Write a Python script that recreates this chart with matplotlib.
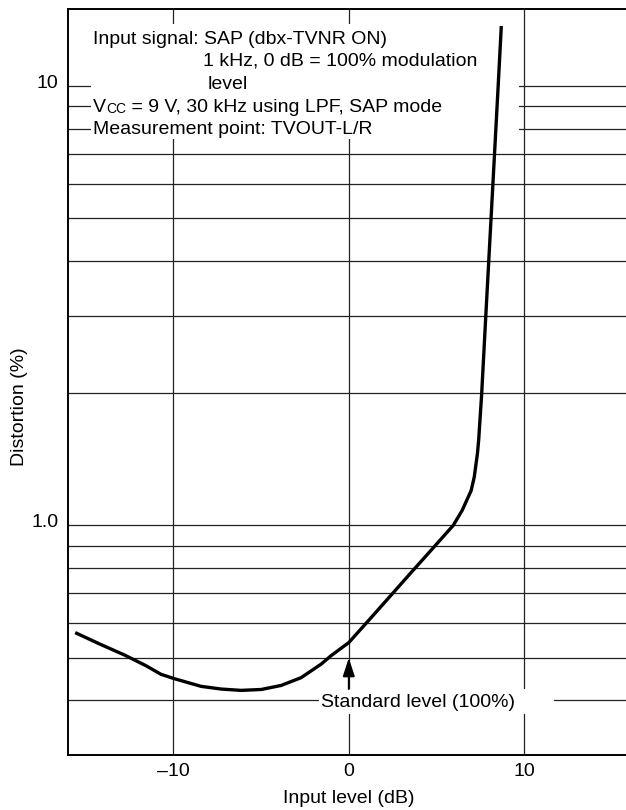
import matplotlib
matplotlib.use('Agg')
import matplotlib.pyplot as plt
import matplotlib.transforms as mtransforms
from matplotlib.patches import Rectangle
from matplotlib.ticker import NullFormatter

plt.rcParams['font.family'] = ['Liberation Sans', 'DejaVu Sans']

# distortion curve
input_db = [-15.59, -14.2, -12.79, -11.55, -10.70, -9.97, -8.42, -7.28, -6.14, -4.99,
            -3.86, -2.72, -1.58, -1.01, 0.0, 1.2, 2.4, 3.6, 4.8, 5.38, 5.95, 6.46,
            6.97, 7.15, 7.33, 7.40, 7.57, 7.81, 7.98, 8.11, 8.31, 8.51, 8.69]
distortion = [0.570, 0.537, 0.507, 0.479, 0.458, 0.448, 0.430, 0.424, 0.421, 0.423,
              0.432, 0.450, 0.483, 0.505, 0.541, 0.612, 0.693, 0.785, 0.888, 0.943, 1.0, 1.082,
              1.20, 1.29, 1.459, 1.565, 1.99, 3.02, 4.04, 5.04, 7.10, 10.0, 13.72]

x_ticks = [-10, 0, 10]
x_labels = ['\u201310', '0', '10']
y_major = [1, 10]
y_labels = ['1.0', '10']
y_minor = [0.4, 0.5, 0.6, 0.7, 0.8, 0.9, 2, 3, 4, 5, 6, 7, 8, 9]

FS = 14
fig = plt.figure(figsize=(6.26, 8.10), dpi=100)
ax = fig.add_axes([68/626, 55/810, 561.6/626, 746/810])

ax.set_yscale('log')
ax.set_xlim(-16, 16)
ax.set_ylim(0.3, 15)
ax.set_xticks(x_ticks)
ax.set_xticklabels(x_labels, fontsize=FS)
ax.set_yticks(y_major)
ax.set_yticklabels(y_labels, fontsize=FS)
ax.set_yticks(y_minor, minor=True)
ax.yaxis.set_minor_formatter(NullFormatter())
ax.tick_params(which='both', length=0)
ax.tick_params(axis='x', pad=6)
ax.tick_params(axis='y', pad=7)
for lab in ax.get_yticklabels():
    lab.set_transform(lab.get_transform() + mtransforms.ScaledTranslation(0, 5/100, fig.dpi_scale_trans))

ax.set_axisbelow(True)
ax.grid(True, which='both', axis='y', color='#222222', lw=0.9)
ax.grid(True, which='major', axis='x', color='#222222', lw=0.9)
for s in ['left', 'bottom', 'top']:
    ax.spines[s].set_linewidth(1.4)
ax.spines['right'].set_visible(False)

ax.plot(input_db, distortion, color='black', lw=2.4, zorder=3,
        solid_capstyle='butt', solid_joinstyle='round')

# white block behind the condition notes
sh = 10 ** (-4 / 437)
ax.add_patch(Rectangle((-14.68, 7.6), 24.38, 13.9 - 7.6, facecolor='white', edgecolor='none', zorder=2))
ax.text(-14.56, 13.04 * sh, 'Input signal: SAP (dbx-TVNR ON)', fontsize=FS, va='center', ha='left', zorder=4)
ax.text(-8.30, 11.65 * sh, '1 kHz, 0 dB = 100% modulation', fontsize=FS, va='center', ha='left', zorder=4)
ax.text(-8.07, 10.32 * sh, 'level', fontsize=FS, va='center', ha='left', zorder=4)
tv = ax.text(-14.56, 9.14 * sh, 'V', fontsize=FS, va='center', ha='left', zorder=4)
tcc = ax.annotate('CC', xy=(1, 0), xycoords=tv, fontsize=10, va='bottom', ha='left', zorder=4)
ax.annotate(' = 9 V, 30 kHz using LPF, SAP mode', xy=(1, 0), xycoords=tcc, fontsize=FS,
            va='bottom', ha='left', zorder=4)
ax.text(-14.56, 8.15 * sh, 'Measurement point: TVOUT-L/R', fontsize=FS, va='center', ha='left', zorder=4)

# standard level marker
ax.add_patch(Rectangle((-1.69, 0.371), 13.39, 0.424 - 0.371, facecolor='white', edgecolor='none', zorder=2))
ax.text(-1.58, 0.395, 'Standard level (100%)', fontsize=FS, va='center', ha='left', zorder=4)
ax.annotate('', xy=(0, 0.499), xytext=(0, 0.424),
            arrowprops=dict(arrowstyle='-|>,head_length=0.55,head_width=0.18', mutation_scale=20,
                            color='black', lw=1.4, shrinkA=0, shrinkB=0), zorder=4)

ax.set_xlabel('Input level (dB)', fontsize=FS, labelpad=7)
ax.set_ylabel('Distortion (%)', fontsize=FS)
ax.yaxis.set_label_coords(-40/561.6, (755 - 407) / 746)

fig.savefig('out.png', dpi=100)
